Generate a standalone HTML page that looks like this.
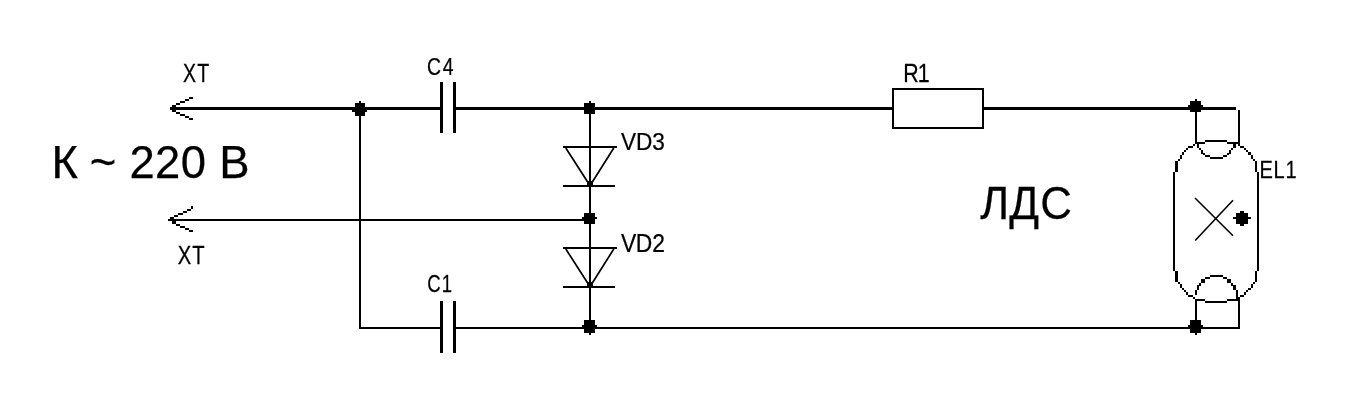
<!DOCTYPE html>
<html lang="ru">
<head>
<meta charset="utf-8">
<title>Схема питания ЛДС</title>
<style>
  html, body { margin: 0; padding: 0; background: #fff; }
  body { width: 1358px; height: 402px; overflow: hidden; }
  svg { display: block; will-change: transform; }
  text { font-family: "Liberation Sans", sans-serif; fill: #000; stroke: #000; stroke-width: 0.25px; }
  .w rect { fill: #000; shape-rendering: crispEdges; }
  .d { stroke: #000; stroke-width: 1.7; fill: none; stroke-linecap: square; stroke-linejoin: round; }
</style>
</head>
<body>
<svg width="1358" height="402" viewBox="0 0 1358 402">
  <rect x="0" y="0" width="1358" height="402" fill="#fff"/>

  <!-- wires, capacitor plates, diode bars -->
  <g class="w">
    <rect x="172" y="107" width="268" height="3"/>
    <rect x="456" y="107" width="436" height="3"/>
    <rect x="984" y="107" width="252" height="3"/>
    <rect x="172" y="219" width="418" height="2"/>
    <rect x="359" y="327" width="81" height="2"/>
    <rect x="456" y="327" width="784" height="2"/>
    <rect x="359" y="108" width="2" height="221"/>
    <rect x="589" y="108" width="2" height="220"/>
    <rect x="1195" y="108" width="2" height="36"/>
    <rect x="1238" y="110" width="2" height="34"/>
    <rect x="1195" y="299" width="2" height="29"/>
    <rect x="1238" y="297" width="2" height="32"/>
    <rect x="440" y="82" width="3" height="51"/>
    <rect x="453" y="82" width="3" height="51"/>
    <rect x="440" y="301" width="3" height="52"/>
    <rect x="453" y="301" width="3" height="52"/>
    <rect x="563" y="146" width="54" height="2"/>
    <rect x="563" y="185" width="52" height="2"/>
    <rect x="563" y="247" width="54" height="2"/>
    <rect x="563" y="286" width="52" height="2"/>
  </g>

  <!-- resistor R1 -->
  <rect x="893" y="89" width="90" height="39" fill="#fff" stroke="#000" stroke-width="2" shape-rendering="crispEdges"/>

  <!-- terminal arrows XT -->
  <g class="w">
    <rect x="170" y="107" width="2" height="3"/>
    <rect x="172" y="105" width="4" height="7"/>
    <rect x="176" y="103" width="4" height="2"/>
    <rect x="180" y="101" width="5" height="2"/>
    <rect x="185" y="99" width="4" height="2"/>
    <rect x="189" y="97" width="4" height="2"/>
    <rect x="176" y="112" width="4" height="2"/>
    <rect x="180" y="114" width="5" height="2"/>
    <rect x="185" y="116" width="4" height="2"/>
    <rect x="189" y="118" width="4" height="2"/>
    <rect x="168" y="219" width="4" height="2"/>
    <rect x="170" y="217" width="4" height="2"/>
    <rect x="172" y="219" width="4" height="5"/>
    <rect x="174" y="215" width="4" height="2"/>
    <rect x="178" y="213" width="5" height="2"/>
    <rect x="183" y="211" width="4" height="2"/>
    <rect x="187" y="209" width="4" height="2"/>
    <rect x="191" y="206" width="2" height="3"/>
    <rect x="176" y="224" width="4" height="2"/>
    <rect x="180" y="226" width="5" height="2"/>
    <rect x="185" y="228" width="4" height="2"/>
    <rect x="189" y="230" width="4" height="2"/>
  </g>

  <!-- diodes VD3, VD2 -->
  <path class="d" style="stroke-linecap:butt" d="M565.8 148 L588.3 183 M613.8 148 L591.7 183"/>
  <path class="d" style="stroke-linecap:butt" d="M565.8 249 L588.3 284 M613.8 249 L591.7 284"/>
  <g class="w"><rect x="587" y="181" width="6" height="4"/><rect x="587" y="282" width="6" height="4"/></g>

  <!-- junction dots -->
  <g class="w">
    <rect x="355" y="103" width="10" height="13"/>
    <rect x="352" y="107" width="15" height="5"/>
    <rect x="359" y="101" width="2" height="2"/>
    <rect x="584" y="103" width="11" height="11"/>
    <rect x="589" y="101" width="2" height="2"/>
    <rect x="584" y="213" width="11" height="11"/>
    <rect x="582" y="217" width="15" height="2"/>
    <rect x="584" y="320" width="11" height="13"/>
    <rect x="582" y="325" width="15" height="4"/>
    <rect x="589" y="333" width="2" height="2"/>
    <rect x="1190" y="101" width="11" height="11"/>
    <rect x="1188" y="105" width="15" height="5"/>
    <rect x="1195" y="99" width="2" height="2"/>
    <rect x="1190" y="320" width="11" height="13"/>
    <rect x="1188" y="325" width="15" height="4"/>
    <rect x="1195" y="333" width="2" height="2"/>
    <rect x="1236" y="213" width="12" height="11"/>
    <rect x="1233" y="217" width="18" height="2"/>
    <rect x="1240" y="211" width="4" height="15"/>
  </g>

  <!-- lamp EL1 -->
  <g class="w">
    <rect x="1173" y="172" width="2" height="99"/>
    <rect x="1257" y="172" width="2" height="99"/>
    <rect x="1197" y="142" width="8" height="2"/>
    <rect x="1205" y="140" width="22" height="2"/>
    <rect x="1227" y="142" width="11" height="2"/>
    <rect x="1193" y="144" width="2" height="2"/>
    <rect x="1188" y="146" width="5" height="2"/>
    <rect x="1186" y="148" width="2" height="2"/>
    <rect x="1184" y="150" width="2" height="2"/>
    <rect x="1182" y="152" width="2" height="3"/>
    <rect x="1180" y="155" width="2" height="4"/>
    <rect x="1178" y="159" width="2" height="2"/>
    <rect x="1175" y="161" width="3" height="11"/>
    <rect x="1238" y="144" width="2" height="2"/>
    <rect x="1240" y="146" width="4" height="2"/>
    <rect x="1244" y="148" width="2" height="2"/>
    <rect x="1246" y="150" width="2" height="2"/>
    <rect x="1248" y="152" width="3" height="3"/>
    <rect x="1251" y="155" width="2" height="4"/>
    <rect x="1253" y="159" width="2" height="2"/>
    <rect x="1255" y="161" width="2" height="11"/>
    <rect x="1197" y="144" width="2" height="4"/>
    <rect x="1199" y="148" width="2" height="2"/>
    <rect x="1201" y="150" width="2" height="4"/>
    <rect x="1203" y="153" width="2" height="2"/>
    <rect x="1205" y="155" width="5" height="2"/>
    <rect x="1210" y="157" width="13" height="2"/>
    <rect x="1223" y="155" width="4" height="2"/>
    <rect x="1227" y="153" width="2" height="2"/>
    <rect x="1229" y="150" width="2" height="4"/>
    <rect x="1231" y="148" width="2" height="2"/>
    <rect x="1233" y="144" width="3" height="4"/>
    <rect x="1175" y="271" width="3" height="11"/>
    <rect x="1178" y="282" width="2" height="2"/>
    <rect x="1180" y="284" width="2" height="4"/>
    <rect x="1182" y="288" width="2" height="2"/>
    <rect x="1184" y="290" width="2" height="2"/>
    <rect x="1186" y="292" width="2" height="3"/>
    <rect x="1188" y="295" width="5" height="2"/>
    <rect x="1193" y="297" width="2" height="2"/>
    <rect x="1195" y="299" width="10" height="2"/>
    <rect x="1205" y="301" width="22" height="2"/>
    <rect x="1227" y="299" width="11" height="2"/>
    <rect x="1255" y="271" width="2" height="11"/>
    <rect x="1253" y="282" width="2" height="2"/>
    <rect x="1251" y="284" width="2" height="4"/>
    <rect x="1248" y="288" width="3" height="2"/>
    <rect x="1246" y="290" width="2" height="2"/>
    <rect x="1244" y="292" width="2" height="3"/>
    <rect x="1240" y="295" width="4" height="2"/>
    <rect x="1238" y="297" width="2" height="2"/>
    <rect x="1195" y="290" width="2" height="5"/>
    <rect x="1197" y="285" width="2" height="5"/>
    <rect x="1199" y="283" width="2" height="3"/>
    <rect x="1201" y="279" width="4" height="4"/>
    <rect x="1205" y="277" width="5" height="2"/>
    <rect x="1210" y="275" width="13" height="2"/>
    <rect x="1223" y="277" width="4" height="2"/>
    <rect x="1227" y="279" width="4" height="4"/>
    <rect x="1231" y="283" width="2" height="3"/>
    <rect x="1233" y="285" width="3" height="5"/>
    <rect x="1236" y="290" width="2" height="9"/>
  </g>
  <path class="d" style="stroke-width:1.6;stroke-linecap:butt" d="M1195 198 L1233 235.7 M1233 200.2 L1195.2 240.5"/>

  <!-- labels -->
  <text class="lbl" font-size="26.16" transform="translate(182.98 82.00) scale(0.7458 1)" x="0.00 19.00" y="0">XT</text>
  <text class="lbl" font-size="25.00" transform="translate(177.75 264.00) scale(0.8074 1)" x="0.00 18.07" y="0">XT</text>
  <text class="lbl" font-size="24.71" transform="translate(426.89 75.00) scale(0.7829 1)" x="0.00 20.17" y="0">C4</text>
  <text class="lbl" font-size="24.71" transform="translate(427.19 292.00) scale(0.7500 1)" x="0.00 19.34" y="0">C1</text>
  <text class="lbl" font-size="24.71" transform="translate(620.96 150.00) scale(0.9152 1)" x="0.00 16.38 34.22" y="0">VD3</text>
  <text class="lbl" font-size="25.29" transform="translate(620.88 252.00) scale(0.9039 1)" x="0.00 16.57 34.59" y="0">VD2</text>
  <text class="lbl" font-size="26.16" transform="translate(903.37 82.00) scale(0.8200 1)" x="0.00 17.52" y="0">R1</text>
  <text class="lbl" font-size="24.71" transform="translate(1259.41 178.00) scale(0.8128 1)" x="0.00 17.37 32.03" y="0">EL1</text>
  <text class="big" font-size="46.51" transform="translate(51.44 177.80) scale(0.9767 1)" x="0.00 1.02 39.21 40.24 79.84 106.16 132.52 133.55 171.86" y="0">К ~ 220 В</text>
  <text class="big" font-size="46.37" transform="translate(980.27 218.80) scale(0.9486 1)" x="0.00 30.61 63.27" y="0">ЛДС</text>
</svg>
</body>
</html>
